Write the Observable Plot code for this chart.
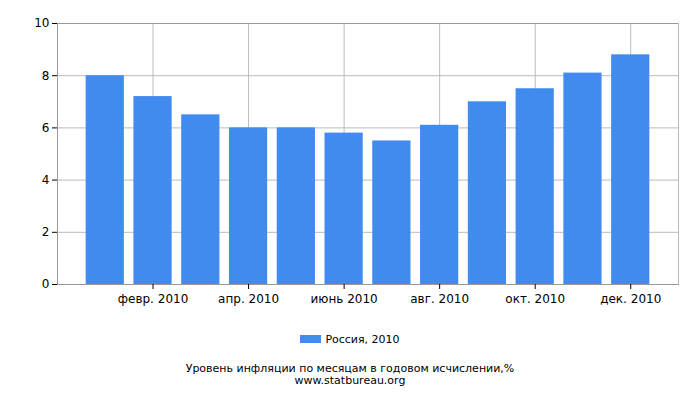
<!DOCTYPE html>
<html>
<head>
<meta charset="utf-8">
<script src="https://cdn.jsdelivr.net/npm/d3@7"></script>
<script src="https://cdn.jsdelivr.net/npm/@observablehq/plot@0.6"></script>
<style>
  html, body { margin: 0; padding: 0; background: #fff; }
  #wrap { position: relative; width: 700px; height: 400px; font-family: "DejaVu Sans", sans-serif; color: #000; }
  #chart { position: absolute; left: 0; top: 0; }
  #legend { position: absolute; left: 0; width: 700px; top: 333px; text-align: center; font-size: 11px; line-height: 14px; }
  #legend .sw { display: inline-block; width: 21px; height: 8px; background: #428BEE; vertical-align: 0px; margin-right: 4px; }
  #caption { position: absolute; left: 0; width: 700px; top: 363px; text-align: center; font-size: 11px; line-height: 12px; }
</style>
</head>
<body>
<div id="wrap">
  <div id="chart"></div>
  <div id="legend"><span class="sw"></span><span id="seriesName"></span></div>
  <div id="caption"><div id="title"></div><div id="source"></div></div>
</div>
<script>
// Data (months of 2010, in order)
const months = ["янв. 2010","февр. 2010","март 2010","апр. 2010","май 2010","июнь 2010",
                "июль 2010","авг. 2010","сент. 2010","окт. 2010","нояб. 2010","дек. 2010"];
const values = [8.0, 7.2, 6.5, 6.0, 6.0, 5.8, 5.5, 6.1, 7.0, 7.5, 8.1, 8.8];
const tickLabels = ["февр. 2010","апр. 2010","июнь 2010","авг. 2010","окт. 2010","дек. 2010"];
const yTicks = [0, 2, 4, 6, 8, 10];
const seriesName = "Россия, 2010";
const title = "Уровень инфляции по месяцам в годовом исчислении,%";
const source = "www.statbureau.org";

// month position: 1 = Jan 2010 ... 12 = Dec 2010 (0 and 13 are the empty ends)
const data = months.map((m, i) => ({month: m, pos: i + 1, value: values[i]}));
const tickPos = tickLabels.map(l => months.indexOf(l) + 1);
const labelOf = new Map(tickPos.map((p, i) => [p, tickLabels[i]]));
const half = 0.4; // half bar width in month steps

const chart = Plot.plot({
  width: 700,
  height: 310,
  marginTop: 23,
  marginBottom: 26,
  marginLeft: 57,
  marginRight: 22,
  style: {fontFamily: "DejaVu Sans, sans-serif", fontSize: "12px", color: "#000", background: "#fff"},
  x: {type: "linear", domain: [0, months.length + 1]},
  y: {domain: [0, 10]},
  marks: [
    Plot.ruleY(yTicks.filter(t => t > 0), {stroke: "#bbb", strokeWidth: 1, strokeOpacity: 1}),
    Plot.ruleX(tickPos, {stroke: "#bbb", strokeWidth: 1}),
    Plot.frame({anchor: "right", stroke: "#bbb"}),
    Plot.rectY(data, {
      x1: d => d.pos - half,
      x2: d => d.pos + half,
      y: "value",
      fill: "#428BEE"
    }),
    Plot.ruleY([10], {stroke: "#999"}),
    Plot.frame({anchor: "left", stroke: "#999"}),
    Plot.frame({anchor: "bottom", stroke: "#999"}),
    Plot.axisY({ticks: yTicks, tickSize: 5, tickPadding: 3, stroke: "#000", label: null, fontSize: 12}),
    Plot.axisX({ticks: tickPos, tickSize: 5, tickPadding: 5, stroke: "#000", tickFormat: d => labelOf.get(d), label: null, fontSize: 12})
  ]
});
document.getElementById("chart").appendChild(chart);
document.getElementById("seriesName").textContent = seriesName;
document.getElementById("title").textContent = title;
document.getElementById("source").textContent = source;
</script>
</body>
</html>
